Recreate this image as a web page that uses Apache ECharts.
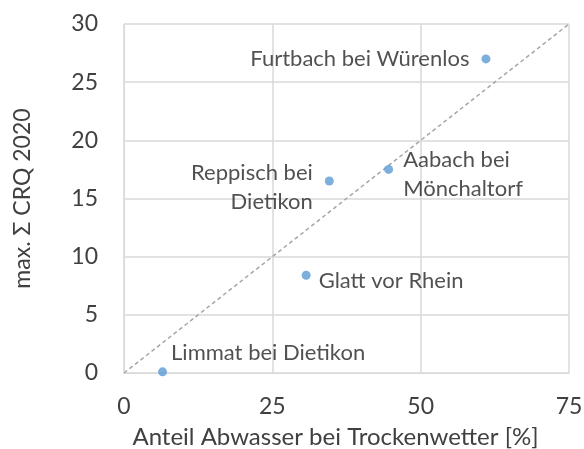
<!DOCTYPE html>
<html>
<head>
<meta charset="utf-8">
<script src="https://cdn.jsdelivr.net/npm/echarts@6/dist/echarts.min.js"></script>
<style>
  html, body { margin: 0; padding: 0; background: #fff; }
  #main { width: 584px; height: 449px; }
</style>
</head>
<body>
<div id="main"></div>
<script>
// Messstellen
var names = ['Furtbach bei Würenlos', 'Aabach bei\nMönchaltorf', 'Reppisch bei\nDietikon', 'Glatt vor Rhein', 'Limmat bei Dietikon'];
var anteil = [61, 44.6, 34.6, 30.7, 6.5];
var crq = [27, 17.5, 16.5, 8.4, 0.1];
var diag = [[0, 0], [75, 30]];

var font = 'Lato, "Open Sans", sans-serif';

// Beschriftung je Punkt
var labelPos = [
    { position: 'left', distance: 12 },
    { position: 'right', distance: 10, align: 'left', offset: [0, 5] },
    { position: 'left', distance: 12, align: 'right', offset: [0, 6] },
    { position: 'right', distance: 8, offset: [0, 6] },
    { position: 'right', distance: 4, offset: [0, -19] }
];

var points = names.map(function (n, i) {
    return {
        name: n,
        value: [anteil[i], crq[i]],
        label: labelPos[i]
    };
});

var myChart = echarts.init(document.getElementById('main'));
myChart.setOption({
    animation: false,
    grid: {
        left: 124,
        right: 15,
        top: 24,
        bottom: 76,
        outerBoundsMode: 'none'
    },
    xAxis: {
        type: 'value',
        min: 0,
        max: 75,
        interval: 25,
        name: 'Anteil Abwasser bei Trockenwetter [%]',
        nameLocation: 'middle',
        nameGap: 52,
        nameTextStyle: { fontFamily: font, fontSize: 24, color: '#404040', padding: [0, 22, 0, 0] },
        axisLine: { show: true, lineStyle: { color: '#d9d9d9' } },
        axisTick: { show: false },
        axisLabel: { fontFamily: font, fontSize: 23, color: '#404040', margin: 22 },
        splitLine: { show: true, lineStyle: { color: '#d9d9d9', width: 1.5 } }
    },
    yAxis: {
        type: 'value',
        min: 0,
        max: 30,
        interval: 5,
        name: 'max. Σ CRQ 2020',
        nameLocation: 'middle',
        nameGap: 90,
        nameTextStyle: { fontFamily: font, fontSize: 23, color: '#404040' },
        axisLine: { show: true, lineStyle: { color: '#d9d9d9' } },
        axisTick: { show: false },
        axisLabel: { fontFamily: font, fontSize: 23, color: '#404040', margin: 26 },
        splitLine: { show: true, lineStyle: { color: '#d9d9d9', width: 1.5 } }
    },
    series: [
        {
            type: 'line',
            data: diag,
            symbol: 'none',
            silent: true,
            lineStyle: { color: '#a6a6a6', width: 1.5, type: [4, 3] },
            z: 1
        },
        {
            type: 'scatter',
            data: points,
            symbolSize: 9,
            itemStyle: { color: '#5b9bd5' },
            label: {
                show: true,
                formatter: '{b}',
                fontFamily: font,
                fontSize: 22,
                lineHeight: 29,
                color: '#262626'
            },
            z: 3
        }
    ]
});
</script>
</body>
</html>
